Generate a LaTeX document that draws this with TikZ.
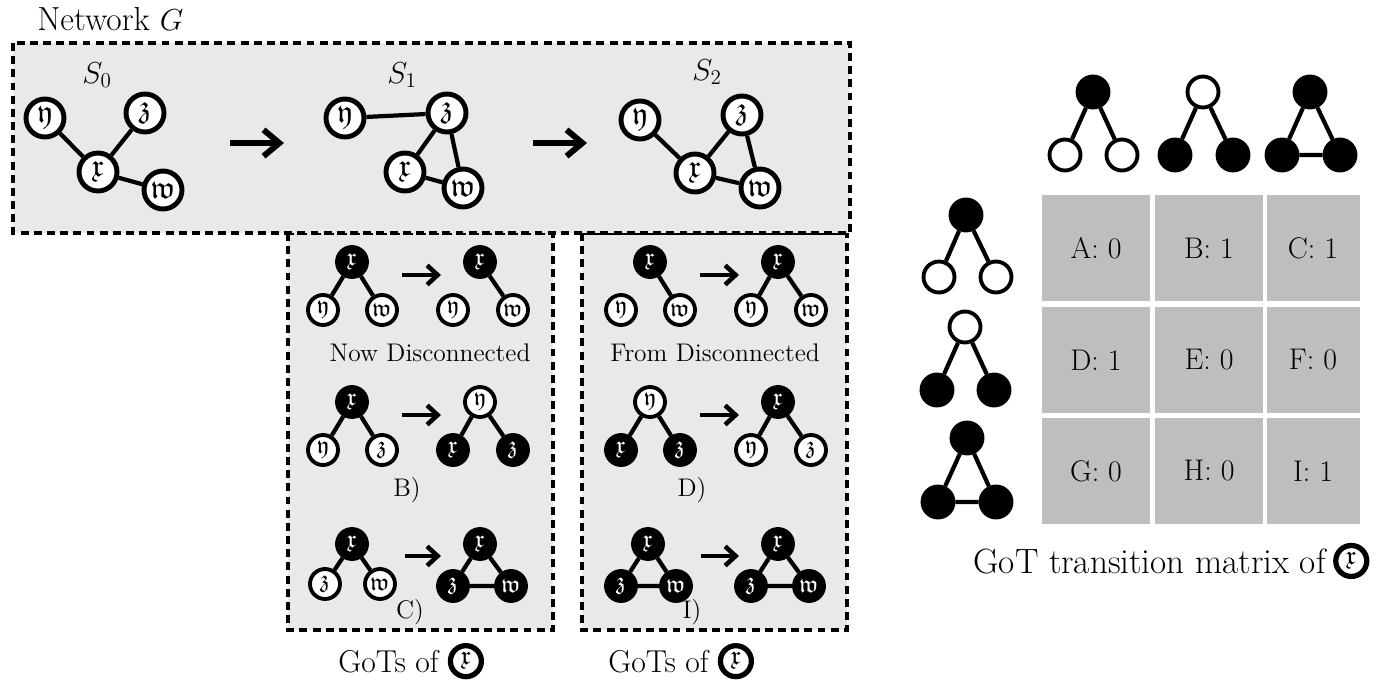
\documentclass[tikz,border=0pt]{standalone}
\definecolor{gotbg}{RGB}{234, 233, 234}
\definecolor{gotcell}{RGB}{191, 190, 190}
\usepackage{amsmath, amssymb}
\usepackage{tikz}
\usetikzlibrary{arrows.meta, positioning}

\begin{document}
\begin{tikzpicture}[x=0.02cm, y=-0.02cm,
    big/.style={circle, draw, line width=2.8pt, fill=white, minimum size=0.76cm, inner sep=0pt, font=\fontsize{18}{18}\selectfont},
    wn/.style={circle, draw, line width=2.2pt, fill=white, minimum size=0.6cm, inner sep=0pt, font=\fontsize{14}{14}\selectfont},
    bn/.style={wn, fill=black, text=white},
    capnode/.style={wn, line width=3pt, minimum size=0.62cm, font=\fontsize{15}{15}\selectfont},
    hw/.style={circle, draw, line width=2.2pt, fill=white, minimum size=0.62cm, inner sep=0pt},
    hb/.style={hw, fill=black},
    edge/.style={line width=2.4pt},
    panel/.style={draw, fill=gotbg, line width=2.2pt, dash pattern=on 4.5pt off 3pt},
    arr/.style={line width=3.4pt, -{Straight Barb[length=9pt, width=15pt]}},
    sarr/.style={line width=2.6pt, -{Straight Barb[length=6pt, width=11pt]}},
    cell/.style={fill=gotcell, minimum height=2.14cm, inner sep=0pt, font=\fontsize{17}{17}\selectfont},
    lab/.style={font=\fontsize{14.5}{17}\selectfont},
  ]
    \useasboundingbox (0,0) rectangle (1379,683);
    % panels
    \draw[panel] (288,233) rectangle (553,630);
    \draw[panel] (582,233) rectangle (847,630);
    \draw[panel] (13,43) rectangle (850,233);
    \node[anchor=base west, inner sep=0pt, font=\fontsize{19}{22}\selectfont] (netg) at (37,30) {Network $G$};

    % S0
    \node[font=\fontsize{17}{20}\selectfont] (s0) at (97,75) {$S_0$};
    \node[big] (x0) at (98,172) {$\mathfrak{x}$};
    \node[big] (y0) at (45,118) {$\mathfrak{y}$};
    \node[big] (z0) at (145,113) {$\mathfrak{z}$};
    \node[big] (w0) at (163,190) {$\mathfrak{w}$};
    \draw[edge] (x0) -- (y0) (x0) -- (z0) (x0) -- (w0);
    \coordinate (t1s) at (230,143);
    \coordinate (t1e) at (284,143);
    \draw[arr] (t1s) -- (t1e);
    % S1
    \node[font=\fontsize{17}{20}\selectfont] (s1) at (402,75) {$S_1$};
    \node[big] (x1) at (405,172) {$\mathfrak{x}$};
    \node[big] (y1) at (345,118) {$\mathfrak{y}$};
    \node[big] (z1) at (447,113) {$\mathfrak{z}$};
    \node[big] (w1) at (463,188) {$\mathfrak{w}$};
    \draw[edge] (y1) -- (z1) (z1) -- (x1) (z1) -- (w1) (x1) -- (w1);
    \coordinate (t2s) at (533,143);
    \coordinate (t2e) at (587,143);
    \draw[arr] (t2s) -- (t2e);
    % S2
    \node[font=\fontsize{17}{20}\selectfont] (s2) at (707,72) {$S_2$};
    \node[big] (x2) at (695,173) {$\mathfrak{x}$};
    \node[big] (y2) at (640,120) {$\mathfrak{y}$};
    \node[big] (z2) at (742,115) {$\mathfrak{z}$};
    \node[big] (w2) at (760,188) {$\mathfrak{w}$};
    \draw[edge] (y2) -- (x2) (x2) -- (z2) (z2) -- (w2) (x2) -- (w2);

    % GoTs, left box
    \node[bn] (a1x) at (352,262) {$\mathfrak{x}$};
    \node[wn] (a1y) at (323,310) {$\mathfrak{y}$};
    \node[wn] (a1w) at (382,310) {$\mathfrak{w}$};
    \draw[edge] (a1x) -- (a1y) (a1x) -- (a1w);
    \coordinate (p1s) at (402,275);
    \coordinate (p1e) at (441,275);
    \draw[sarr] (p1s) -- (p1e);
    \node[bn] (b1x) at (480,262) {$\mathfrak{x}$};
    \node[wn] (b1y) at (453,310) {$\mathfrak{y}$};
    \node[wn] (b1w) at (513,310) {$\mathfrak{w}$};
    \draw[edge] (b1x) -- (b1w);
    \node[lab] (nowd) at (430,353) {Now Disconnected};

    \node[bn] (a2x) at (352,402) {$\mathfrak{x}$};
    \node[wn] (a2y) at (323,450) {$\mathfrak{y}$};
    \node[wn] (a2z) at (382,450) {$\mathfrak{z}$};
    \draw[edge] (a2x) -- (a2y) (a2x) -- (a2z);
    \coordinate (p2s) at (402,415);
    \coordinate (p2e) at (441,415);
    \draw[sarr] (p2s) -- (p2e);
    \node[wn] (b2y) at (480,402) {$\mathfrak{y}$};
    \node[bn] (b2x) at (453,450) {$\mathfrak{x}$};
    \node[bn] (b2z) at (513,450) {$\mathfrak{z}$};
    \draw[edge] (b2y) -- (b2x) (b2y) -- (b2z);
    \node[lab] (labB) at (407,490) {B)};

    \node[bn] (a3x) at (352,544) {$\mathfrak{x}$};
    \node[wn] (a3z) at (325,584) {$\mathfrak{z}$};
    \node[wn] (a3w) at (380,584) {$\mathfrak{w}$};
    \draw[edge] (a3x) -- (a3z) (a3x) -- (a3w);
    \coordinate (p3s) at (405,556);
    \coordinate (p3e) at (441,556);
    \draw[sarr] (p3s) -- (p3e);
    \node[bn] (b3x) at (480,544) {$\mathfrak{x}$};
    \node[bn] (b3z) at (453,586) {$\mathfrak{z}$};
    \node[bn] (b3w) at (511,586) {$\mathfrak{w}$};
    \draw[edge] (b3x) -- (b3z) (b3x) -- (b3w) (b3z) -- (b3w);
    \node[lab] (labC) at (410,612) {C)};

    % GoTs, right box
    \node[bn] (c1x) at (650,262) {$\mathfrak{x}$};
    \node[wn] (c1y) at (621,310) {$\mathfrak{y}$};
    \node[wn] (c1w) at (680,310) {$\mathfrak{w}$};
    \draw[edge] (c1x) -- (c1w);
    \coordinate (q1s) at (700,275);
    \coordinate (q1e) at (739,275);
    \draw[sarr] (q1s) -- (q1e);
    \node[bn] (d1x) at (778,262) {$\mathfrak{x}$};
    \node[wn] (d1y) at (751,310) {$\mathfrak{y}$};
    \node[wn] (d1w) at (811,310) {$\mathfrak{w}$};
    \draw[edge] (d1x) -- (d1y) (d1x) -- (d1w);
    \node[lab] (fromd) at (715,353) {From Disconnected};

    \node[wn] (c2y) at (650,402) {$\mathfrak{y}$};
    \node[bn] (c2x) at (621,450) {$\mathfrak{x}$};
    \node[bn] (c2z) at (680,450) {$\mathfrak{z}$};
    \draw[edge] (c2y) -- (c2x) (c2y) -- (c2z);
    \coordinate (q2s) at (700,415);
    \coordinate (q2e) at (739,415);
    \draw[sarr] (q2s) -- (q2e);
    \node[bn] (d2x) at (778,402) {$\mathfrak{x}$};
    \node[wn] (d2y) at (751,450) {$\mathfrak{y}$};
    \node[wn] (d2z) at (811,450) {$\mathfrak{z}$};
    \draw[edge] (d2x) -- (d2y) (d2x) -- (d2z);
    \node[lab] (labD) at (692,490) {D)};

    \node[bn] (c3x) at (648,544) {$\mathfrak{x}$};
    \node[bn] (c3z) at (621,586) {$\mathfrak{z}$};
    \node[bn] (c3w) at (676,586) {$\mathfrak{w}$};
    \draw[edge] (c3x) -- (c3z) (c3x) -- (c3w) (c3z) -- (c3w);
    \coordinate (q3s) at (701,556);
    \coordinate (q3e) at (739,556);
    \draw[sarr] (q3s) -- (q3e);
    \node[bn] (d3x) at (778,544) {$\mathfrak{x}$};
    \node[bn] (d3z) at (751,586) {$\mathfrak{z}$};
    \node[bn] (d3w) at (809,586) {$\mathfrak{w}$};
    \draw[edge] (d3x) -- (d3z) (d3x) -- (d3w) (d3z) -- (d3w);
    \node[lab] (labI) at (692,612) {I)};

    % captions
    \node[anchor=base west, inner sep=0pt, font=\fontsize{18}{21}\selectfont] (gotl) at (338,672) {GoTs of};
    \node[capnode, right=5pt of gotl.east] (gotlx) {$\mathfrak{x}$};
    \node[anchor=base west, inner sep=0pt, font=\fontsize{18}{21}\selectfont] (gotr) at (608,672) {GoTs of};
    \node[capnode, right=5pt of gotr.east] (gotrx) {$\mathfrak{x}$};

    % matrix header
    \node[hb] (h1t) at (1093,92) {};
    \node[hw] (h1l) at (1065,155) {};
    \node[hw] (h1r) at (1122,155) {};
    \draw[edge] (h1t) -- (h1l) (h1t) -- (h1r);
    \node[hw] (h2t) at (1203,92) {};
    \node[hb] (h2l) at (1175,155) {};
    \node[hb] (h2r) at (1233,155) {};
    \draw[edge] (h2t) -- (h2l) (h2t) -- (h2r);
    \node[hb] (h3t) at (1310,92) {};
    \node[hb] (h3l) at (1282,155) {};
    \node[hb] (h3r) at (1340,155) {};
    \draw[edge] (h3t) -- (h3l) (h3t) -- (h3r) (h3l) -- (h3r);
    % matrix rows
    \node[hb] (r1t) at (966,215) {};
    \node[hw] (r1l) at (939,277) {};
    \node[hw] (r1r) at (996,277) {};
    \draw[edge] (r1t) -- (r1l) (r1t) -- (r1r);
    \node[hw] (r2t) at (965,327) {};
    \node[hb] (r2l) at (937,390) {};
    \node[hb] (r2r) at (994,390) {};
    \draw[edge] (r2t) -- (r2l) (r2t) -- (r2r);
    \node[hb] (r3t) at (967,438) {};
    \node[hb] (r3l) at (938,502) {};
    \node[hb] (r3r) at (996,502) {};
    \draw[edge] (r3t) -- (r3l) (r3t) -- (r3r) (r3l) -- (r3r);
    % matrix cells
    \foreach \n/\v/\cx/\cy/\w in {A/0/1096/248/2.16, B/1/1209/248/2.16, C/1/1313/248/1.86,
        D/1/1096/360/2.16, E/0/1209/360/2.16, F/0/1313/360/1.86,
        G/0/1096/471/2.16, H/0/1209/471/2.16, I/1/1313/471/1.86} {
      \node[cell, minimum width=\w cm] (c\n) at (\cx,\cy) {\n: \v};
    }
    \node[anchor=base west, inner sep=0pt, font=\fontsize{20}{23}\selectfont] (mlab) at (973,573) {GoT transition matrix of};
    \node[capnode, right=4pt of mlab.east] (mlabx) {$\mathfrak{x}$};
  \end{tikzpicture}
\end{document}
